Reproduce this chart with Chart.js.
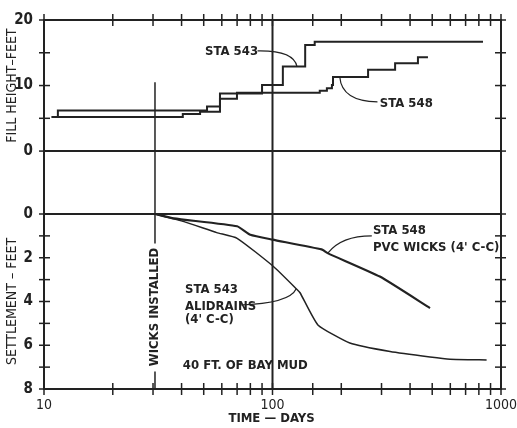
<!DOCTYPE html>
<html>
<head>
<meta charset="utf-8">
<title>Fill height and settlement vs time</title>
<script src="https://cdn.jsdelivr.net/npm/chart.js@4.4.1/dist/chart.umd.min.js"></script>
<style>
  body { margin: 0; background: #fff; }
  canvas { display: block; }
</style>
</head>
<body>
<canvas id="settlementChart" width="517" height="428"></canvas>
<script>
// fill placed, days vs feet (each point = day of a lift and the new height)
const sta543FillDays = [10.8, 11.5, 51.7, 58.9, 90, 111, 139, 153, 834];
const sta543Fill = [5.2, 6.2, 6.8, 8.8, 10.1, 12.9, 16.2, 16.7, 16.7];
const sta548FillDays = [10.8, 40.5, 48.2, 58.9, 69.9, 161, 173, 182, 184, 262, 344, 433, 479];
const sta548Fill = [5.2, 5.65, 6.0, 8.0, 8.9, 9.2, 9.6, 10.1, 11.3, 12.4, 13.4, 14.3, 14.3];

// settlement, days vs feet
const sta543SettleDays = [30.6, 41, 57, 70, 101, 128, 132, 158, 218, 327, 489, 598, 865];
const sta543Settle = [0, 0.35, 0.85, 1.11, 2.4, 3.45, 3.6, 5.07, 5.9, 6.29, 6.54, 6.64, 6.67];
const sta548SettleDays = [30.6, 37, 70, 80, 100, 164, 175, 295, 489];
const sta548Settle = [0, 0.2, 0.56, 0.95, 1.17, 1.62, 1.8, 2.86, 4.3];

const timeTickLabels = [10, 100, 1000];
const fillTickLabels = [0, 10, 20];
const fillTickMarks = [0, 5, 10, 15, 20];
const settleTickLabels = [0, 2, 4, 6, 8];
const settleTickMarks = [0, 1, 2, 3, 4, 5, 6, 7, 8];

const wicksInstalledDay = 30.6;

const INK = "#222";
const FONT = '"DejaVu Sans Condensed", "Liberation Sans Narrow", sans-serif';

function toPoints(days, values) {
  return days.map((d, i) => ({ x: d, y: values[i] }));
}

function line(ctx, x1, y1, x2, y2) {
  ctx.beginPath();
  ctx.moveTo(x1, y1);
  ctx.lineTo(x2, y2);
  ctx.stroke();
}

// text notes and leaders, placed in data units
const notes = [
  { text: "STA 543", axis: "yFill", day: 50.7, value: 15.1 },
  { text: "STA 548", axis: "yFill", day: 295, value: 7.25 },
  { text: "STA 548", axis: "ySet", day: 275, value: 0.78 },
  { text: "PVC WICKS (4' C-C)", axis: "ySet", day: 275, value: 1.53 },
  { text: "STA 543", axis: "ySet", day: 41.4, value: 3.47 },
  { text: "ALIDRAINS", axis: "ySet", day: 41.4, value: 4.22 },
  { text: "(4' C-C)", axis: "ySet", day: 41.4, value: 4.84 },
  { text: "40 FT. OF BAY MUD", axis: "ySet", day: 40.5, value: 6.94 },
];

const leaders = [
  { axis: "yFill", from: [86, 15.3], ctrl: [124, 15.4], to: [128, 12.9] },
  { axis: "yFill", from: [197, 11.3], ctrl: [201, 7.6], to: [288, 7.5] },
  { axis: "ySet", from: [175, 1.78], ctrl: [200, 1.0], to: [272, 1.0] },
  { axis: "ySet", from: [72, 4.16], ctrl: [119, 4.09], to: [127, 3.42] },
];

const framePlugin = {
  id: "frame",
  beforeDatasetsDraw(chart) {
    const { ctx, chartArea: a, scales } = chart;
    const x = scales.x;
    const yF = scales.yFill;
    const yS = scales.ySet;
    ctx.save();
    ctx.strokeStyle = INK;
    ctx.lineWidth = 2;
    ctx.strokeRect(a.left, a.top, a.right - a.left, a.bottom - a.top);

    line(ctx, a.left, yF.getPixelForValue(0), a.right, yF.getPixelForValue(0));
    line(ctx, a.left, yS.getPixelForValue(0), a.right, yS.getPixelForValue(0));

    const x100 = x.getPixelForValue(100);
    line(ctx, x100, a.top, x100, a.bottom);

    // wicks installed, broken where the label sits
    const xw = x.getPixelForValue(wicksInstalledDay);
    ctx.lineWidth = 1.5;
    line(ctx, xw, yF.getPixelForValue(10.5), xw, yS.getPixelForValue(1.35));
    line(ctx, xw, yS.getPixelForValue(7.2), xw, a.bottom);

    ctx.lineWidth = 1.5;
    x.ticks.forEach((t) => {
      const px = x.getPixelForValue(t.value);
      line(ctx, px, a.top - 6, px, a.top + 6);
      line(ctx, px, a.bottom - 6, px, a.bottom + 6);
    });
    fillTickMarks.forEach((v) => {
      const py = yF.getPixelForValue(v);
      line(ctx, a.left - 5, py, a.left + 6, py);
      line(ctx, a.right - 6, py, a.right + 5, py);
    });
    settleTickMarks.forEach((v) => {
      const py = yS.getPixelForValue(v);
      line(ctx, a.left - 5, py, a.left + 6, py);
      line(ctx, a.right - 6, py, a.right + 5, py);
    });
    ctx.restore();
  },
  afterDraw(chart) {
    const { ctx, scales } = chart;
    const x = scales.x;
    ctx.save();
    ctx.fillStyle = INK;
    ctx.strokeStyle = INK;
    ctx.textBaseline = "middle";

    ctx.font = "bold 13px " + FONT;
    ctx.textAlign = "left";
    notes.forEach((n) => {
      ctx.fillText(n.text, x.getPixelForValue(n.day), scales[n.axis].getPixelForValue(n.value));
    });

    ctx.lineWidth = 1.2;
    leaders.forEach((l) => {
      const y = scales[l.axis];
      ctx.beginPath();
      ctx.moveTo(x.getPixelForValue(l.from[0]), y.getPixelForValue(l.from[1]));
      ctx.quadraticCurveTo(
        x.getPixelForValue(l.ctrl[0]), y.getPixelForValue(l.ctrl[1]),
        x.getPixelForValue(l.to[0]), y.getPixelForValue(l.to[1])
      );
      ctx.stroke();
    });

    // rotated labels
    ctx.textAlign = "center";
    ctx.save();
    ctx.translate(x.getPixelForValue(wicksInstalledDay), scales.ySet.getPixelForValue(4.25));
    ctx.rotate(-Math.PI / 2);
    ctx.fillText("WICKS INSTALLED", 0, 0);
    ctx.restore();

    ctx.font = "14px " + FONT;
    ctx.save();
    ctx.translate(12, scales.yFill.getPixelForValue(10));
    ctx.rotate(-Math.PI / 2);
    ctx.fillText("FILL HEIGHT\u2013FEET", 0, 0);
    ctx.restore();
    ctx.save();
    ctx.translate(12, scales.ySet.getPixelForValue(4));
    ctx.rotate(-Math.PI / 2);
    ctx.fillText("SETTLEMENT \u2013 FEET", 0, 0);
    ctx.restore();

    ctx.font = "bold 13px " + FONT;
    ctx.fillText("TIME \u2014 DAYS", x.getPixelForValue(100) - 1, chart.height - 9);
    ctx.restore();
  },
};

const tickFont = { family: FONT, size: 15, weight: "bold" };

new Chart(document.getElementById("settlementChart"), {
  type: "line",
  data: {
    datasets: [
      {
        label: "STA 543 fill",
        data: toPoints(sta543FillDays, sta543Fill),
        yAxisID: "yFill",
        stepped: "before",
        borderColor: INK,
        borderWidth: 2,
        pointRadius: 0,
      },
      {
        label: "STA 548 fill",
        data: toPoints(sta548FillDays, sta548Fill),
        yAxisID: "yFill",
        stepped: "before",
        borderColor: INK,
        borderWidth: 2,
        pointRadius: 0,
      },
      {
        label: "STA 543 settlement",
        data: toPoints(sta543SettleDays, sta543Settle),
        yAxisID: "ySet",
        borderColor: INK,
        borderWidth: 1.5,
        tension: 0.15,
        pointRadius: 0,
      },
      {
        label: "STA 548 settlement",
        data: toPoints(sta548SettleDays, sta548Settle),
        yAxisID: "ySet",
        borderColor: INK,
        borderWidth: 2.2,
        tension: 0.15,
        pointRadius: 0,
      },
    ],
  },
  options: {
    responsive: false,
    animation: false,
    layout: { padding: { top: 20, right: 16, left: 0, bottom: 0 } },
    plugins: {
      legend: { display: false },
      tooltip: { enabled: false },
    },
    scales: {
      x: {
        type: "logarithmic",
        position: "bottom",
        min: 10,
        max: 1000,
        grid: { display: false, drawTicks: false },
        border: { display: false },
        ticks: {
          autoSkip: false,
          maxRotation: 0,
          padding: 8,
          color: INK,
          font: { family: FONT, size: 14 },
          callback: (v) => (timeTickLabels.includes(v) ? String(v) : ""),
        },
        afterFit: (s) => {
          s.height = 39;
          // keep the plot edge fixed, the end labels may hang over it
          s.paddingLeft = 0;
          s.paddingRight = 0;
        },
      },
      // left-side stacks are laid out from the last one defined, so the
      // settlement panel comes first here to end up below the fill panel
      ySet: {
        type: "linear",
        position: "left",
        stack: "panels",
        stackWeight: 175,
        min: 0,
        max: 8,
        reverse: true,
        grid: { display: false, drawTicks: false },
        border: { display: false },
        ticks: { padding: 11, color: INK, font: tickFont },
        afterBuildTicks: (s) => { s.ticks = settleTickLabels.map((v) => ({ value: v })); },
        afterFit: (s) => { s.width = 44; },
      },
      yFill: {
        type: "linear",
        position: "left",
        stack: "panels",
        stackWeight: 194,
        min: -9.6,
        max: 20,
        grid: { display: false, drawTicks: false },
        border: { display: false },
        ticks: { padding: 11, color: INK, font: tickFont },
        afterBuildTicks: (s) => { s.ticks = fillTickLabels.map((v) => ({ value: v })); },
        afterFit: (s) => { s.width = 44; },
      },
    },
  },
  plugins: [framePlugin],
});
</script>
</body>
</html>
